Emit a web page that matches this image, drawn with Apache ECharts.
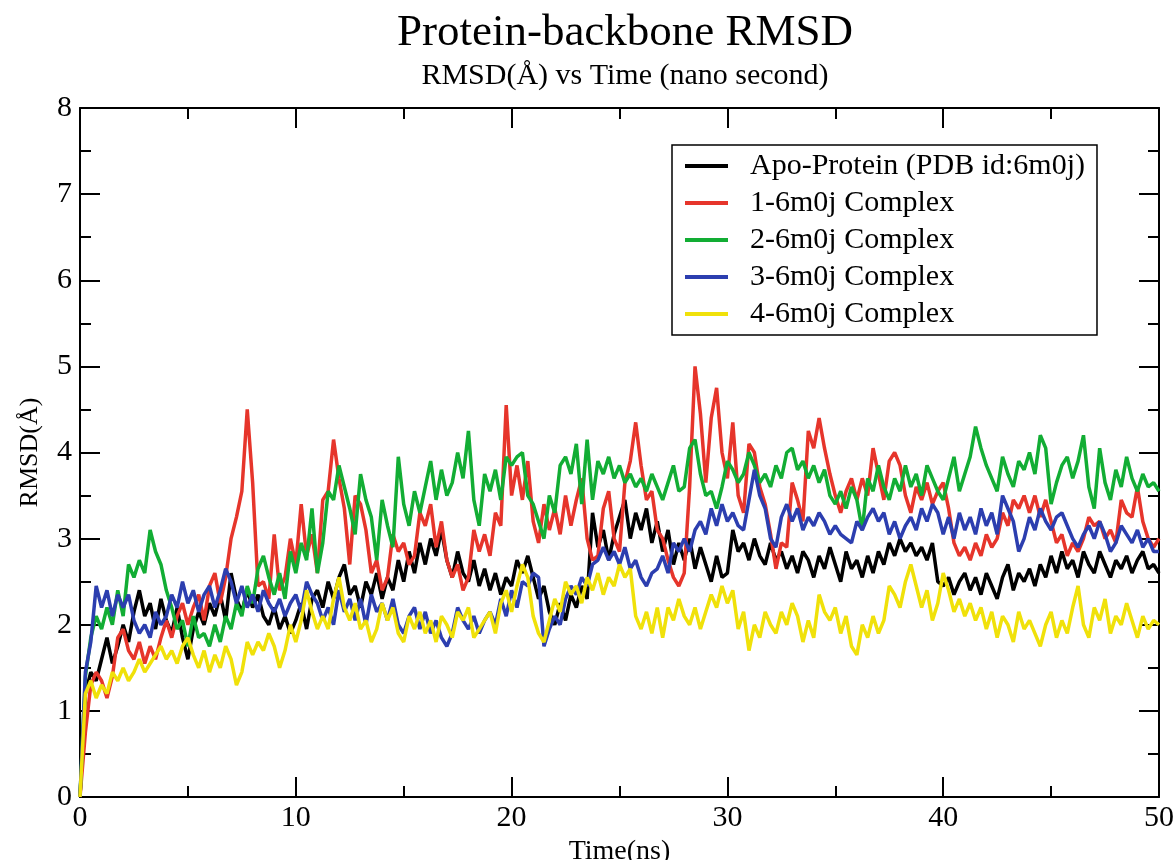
<!DOCTYPE html>
<html>
<head>
<meta charset="utf-8">
<script src="https://cdn.jsdelivr.net/npm/echarts@6/dist/echarts.min.js"></script>
<style>
  html, body { margin: 0; padding: 0; background: #fff; overflow: hidden; }
  #chart { width: 1175px; height: 860px; }
</style>
</head>
<body>
<div id="chart"></div>
<script>
// ---- Data (RMSD in Angstrom, sampled every 0.25 ns from 0 to 50 ns) ----
const timeStepNs = 0.25;
const seriesNames = [
  'Apo-Protein (PDB id:6m0j)',
  '1-6m0j Complex',
  '2-6m0j Complex',
  '3-6m0j Complex',
  '4-6m0j Complex'
];
const xTicks = [0, 10, 20, 30, 40, 50];
const yTicks = [0, 1, 2, 3, 4, 5, 6, 7, 8];

const apoProtein = [
  0.00,1.20,1.45,1.35, 1.60,1.85,1.55,1.75, 2.00,1.80,2.15,2.40, 2.10,2.25,1.95,2.30, 2.05,1.90,2.20,1.85,
  1.60,1.95,2.15,2.00, 2.25,2.10,2.35,2.05, 2.60,2.30,2.15,2.40, 2.20,2.35,2.10,2.00, 2.20,1.95,2.10,1.90,
  2.05,2.25,1.95,2.30, 2.40,2.20,2.50,2.30, 2.55,2.70,2.35,2.45, 2.20,2.50,2.35,2.60, 2.30,2.55,2.40,2.75,
  2.50,2.85,2.60,2.95, 2.70,3.00,2.80,3.10, 2.75,2.55,2.85,2.60, 2.50,2.75,2.45,2.65, 2.40,2.60,2.35,2.55,
  2.45,2.75,2.60,2.80, 2.55,2.30,2.45,2.15, 2.00,2.25,2.05,2.35, 2.20,2.45,2.30,3.30, 2.90,3.10,2.75,3.05,
  3.25,3.45,3.00,3.30, 3.10,3.35,2.95,3.20, 2.85,3.10,2.70,2.95, 2.75,3.00,2.65,2.90, 2.70,2.50,2.80,2.55,
  2.60,3.10,2.85,2.95, 2.75,3.00,2.80,2.70, 2.95,2.75,2.85,2.65, 2.80,2.60,2.85,2.75, 2.55,2.80,2.65,2.90,
  2.70,2.50,2.85,2.65, 2.75,2.55,2.80,2.60, 2.85,2.70,2.95,2.80, 3.00,2.85,2.95,2.80, 2.90,2.75,2.95,2.50,
  2.45,2.55,2.35,2.50, 2.60,2.40,2.55,2.35, 2.60,2.45,2.30,2.55, 2.70,2.40,2.60,2.50, 2.65,2.45,2.70,2.55,
  2.80,2.60,2.85,2.65, 2.75,2.55,2.85,2.70, 2.60,2.85,2.70,2.55, 2.75,2.65,2.80,2.60, 2.75,2.85,2.65,2.70,
  2.60
];
const complex1 = [
  0.00,0.75,1.30,1.45, 1.35,1.15,1.40,1.85, 1.95,1.70,1.60,1.80, 1.55,1.75,1.60,1.85, 2.05,1.85,2.10,2.25,
  2.00,2.20,2.35,2.05, 2.45,2.60,2.25,2.55, 3.00,3.25,3.55,4.50, 3.65,2.45,2.50,2.30, 3.05,2.40,2.55,3.00,
  2.70,3.40,2.80,3.05, 2.60,3.45,3.55,4.15, 3.70,3.35,2.70,3.50, 3.40,3.10,2.60,2.75, 2.40,2.55,3.05,2.85,
  2.95,2.70,2.80,3.30, 3.15,3.40,2.90,3.20, 2.75,2.55,2.70,2.40, 2.55,3.10,2.85,3.05, 2.80,3.30,3.15,4.55,
  3.50,3.85,3.45,3.90, 3.20,2.95,3.40,3.10, 3.35,3.05,3.50,3.15, 3.45,3.70,3.00,2.75, 2.80,3.35,3.55,3.00,
  2.85,3.65,3.90,4.35, 3.85,3.45,3.55,3.10, 3.00,2.75,2.55,2.45, 2.60,3.60,5.00,4.45, 3.65,4.40,4.75,4.00,
  3.70,4.35,3.50,3.30, 4.10,4.00,3.60,3.40, 3.05,2.65,2.95,2.90, 3.65,3.45,3.20,4.25, 4.05,4.40,4.05,3.75,
  3.50,3.30,3.55,3.70, 3.45,3.70,3.50,4.05, 3.75,3.45,3.90,4.00, 3.85,3.50,3.30,3.60, 3.45,3.65,3.40,3.55,
  3.65,3.35,2.95,2.80, 2.90,2.75,2.95,2.80, 3.05,2.90,3.00,3.30, 3.15,3.45,3.35,3.50, 3.30,3.50,3.25,3.45,
  3.20,2.95,3.05,2.80, 2.95,2.85,3.00,3.25, 3.15,3.20,3.00,3.10, 2.95,3.45,3.30,3.25, 3.60,3.20,3.00,2.90,
  3.00
];
const complex2 = [
  0.00,1.40,1.85,2.10, 1.95,2.20,2.00,2.40, 2.10,2.70,2.55,2.75, 2.60,3.10,2.85,2.70, 2.40,2.20,1.95,2.05,
  1.75,2.10,1.85,1.90, 1.75,2.00,1.80,2.10, 1.95,2.25,2.10,2.45, 2.25,2.65,2.80,2.55, 2.35,2.60,2.30,2.85,
  2.60,2.95,2.75,3.35, 2.60,2.95,3.55,3.45, 3.85,3.60,3.35,3.05, 3.75,3.45,3.25,2.75, 3.45,3.15,2.90,3.95,
  3.40,3.15,3.55,3.30, 3.60,3.90,3.45,3.80, 3.50,3.65,4.00,3.70, 4.25,3.45,3.15,3.75, 3.55,3.80,3.45,3.95,
  3.85,3.95,4.00,3.50, 3.40,3.20,3.00,3.50, 3.30,3.85,3.95,3.75, 4.10,3.40,4.15,3.45, 3.90,3.75,3.95,3.70,
  3.85,3.65,3.75,3.60, 3.70,3.55,3.75,3.60, 3.45,3.65,3.85,3.55, 3.60,4.05,4.15,3.75, 3.50,3.55,3.35,3.60,
  3.90,3.80,3.65,3.75, 4.00,3.85,3.65,3.75, 3.60,3.85,3.70,4.00, 4.05,3.80,3.90,3.70, 3.85,3.65,3.80,3.50,
  3.40,3.55,3.35,3.60, 3.45,3.10,3.70,3.55, 3.85,3.60,3.45,3.70, 3.55,3.85,3.60,3.75, 3.50,3.85,3.70,3.55,
  3.45,3.70,3.95,3.55, 3.75,3.95,4.30,4.05, 3.85,3.70,3.55,3.95, 3.75,3.60,3.90,3.80, 4.00,3.75,4.20,4.05,
  3.40,3.65,3.85,3.95, 3.70,3.90,4.20,3.60, 3.35,4.05,3.65,3.45, 3.80,3.60,3.95,3.70, 3.55,3.75,3.60,3.65,
  3.55
];
const complex3 = [
  0.00,1.45,1.80,2.45, 2.20,2.40,2.10,2.35, 2.20,2.35,2.05,1.90, 2.00,1.85,2.15,2.00, 2.10,2.35,2.20,2.50,
  2.25,2.40,2.15,2.35, 2.45,2.20,2.40,2.65, 2.50,2.25,2.45,2.20, 2.35,2.15,2.40,2.25, 2.15,2.30,2.10,2.25,
  2.35,2.15,2.50,2.35, 2.25,2.05,2.20,2.00, 2.40,2.15,2.30,2.05, 2.30,2.00,2.35,2.15, 2.25,2.05,2.30,2.00,
  1.90,2.10,2.20,1.95, 2.15,1.90,2.05,1.85, 1.75,1.90,2.20,2.05, 1.95,2.10,1.90,2.05, 2.15,2.00,2.30,2.10,
  2.40,2.20,2.50,2.45, 2.60,2.55,1.75,1.95, 2.10,2.00,2.30,2.45, 2.35,2.55,2.45,2.70, 2.75,2.90,2.75,2.85,
  2.70,2.90,2.65,2.75, 2.55,2.45,2.60,2.65, 2.80,2.60,2.95,2.85, 3.00,2.85,3.10,3.20, 3.05,3.35,3.15,3.40,
  3.20,3.30,3.15,3.10, 3.45,3.80,3.50,3.35, 3.00,2.90,3.25,3.40, 3.20,3.35,3.10,3.25, 3.15,3.30,3.20,3.05,
  3.15,3.05,3.00,2.95, 3.20,3.10,3.25,3.35, 3.20,3.30,3.05,3.20, 3.00,3.15,3.25,3.10, 3.35,3.20,3.40,3.30,
  3.05,3.25,3.00,3.30, 3.10,3.25,3.05,3.35, 3.15,3.30,3.05,3.50, 3.35,3.20,2.85,3.00, 3.25,3.10,3.35,3.20,
  3.10,3.25,3.30,3.15, 3.00,2.90,3.05,3.15, 3.00,3.20,3.05,2.85, 2.95,3.15,3.05,2.95, 3.10,2.90,3.00,2.85,
  2.85
];
const complex4 = [
  0.00,1.20,1.35,1.15, 1.30,1.20,1.45,1.35, 1.50,1.35,1.45,1.60, 1.45,1.55,1.65,1.75, 1.60,1.70,1.55,1.75,
  1.85,1.65,1.50,1.70, 1.45,1.65,1.50,1.75, 1.60,1.30,1.45,1.80, 1.65,1.80,1.70,1.90, 1.75,1.50,1.70,2.00,
  1.80,2.05,2.40,2.15, 1.95,2.10,1.95,2.30, 2.55,2.20,2.05,2.25, 1.95,2.05,1.80,1.95, 2.25,2.05,2.20,1.90,
  1.80,2.10,1.95,2.15, 1.90,2.05,1.80,2.10, 2.00,1.85,2.15,2.05, 2.20,1.85,1.95,2.05, 2.15,1.90,2.25,2.40,
  2.15,2.45,2.70,2.55, 2.10,1.90,1.80,2.05, 2.30,2.15,2.50,2.35, 2.45,2.25,2.55,2.40, 2.60,2.35,2.55,2.45,
  2.70,2.55,2.65,2.10, 1.95,2.15,1.90,2.20, 1.85,2.20,2.05,2.30, 2.10,2.00,2.20,1.95, 2.15,2.35,2.20,2.45,
  2.25,2.40,1.95,2.15, 1.70,2.00,1.85,2.15, 2.00,1.90,2.15,2.00, 2.25,2.10,1.80,2.05, 1.85,2.35,2.15,2.05,
  2.20,1.90,2.10,1.75, 1.65,2.00,1.85,2.10, 1.90,2.05,2.45,2.35, 2.20,2.50,2.70,2.45, 2.20,2.40,2.05,2.25,
  2.60,2.40,2.15,2.30, 2.10,2.25,2.05,2.20, 1.95,2.15,1.85,2.10, 2.00,1.80,2.15,1.95, 2.05,1.90,1.75,2.00,
  2.15,1.85,2.05,1.90, 2.20,2.45,2.00,1.85, 2.20,2.05,2.30,1.90, 2.10,2.00,2.25,2.05, 1.85,2.10,1.95,2.05,
  2.00
];

const seriesValues = [apoProtein, complex1, complex2, complex3, complex4];
const seriesColors = ['#000000', '#e6352b', '#12ad34', '#2c3eaf', '#f0e10a'];

// ---- Chart ----
const FONT = '"Liberation Serif", "Times New Roman", serif';
const chart = echarts.init(document.getElementById('chart'), null, { renderer: 'canvas' });

function toPairs(arr) {
  return arr.map((v, i) => [i * timeStepNs, v]);
}

function axisStyle() {
  return {
    axisLine: { show: true, onZero: false, lineStyle: { color: '#000', width: 2 } },
    axisTick: { show: true, inside: true, length: 20, lineStyle: { color: '#000', width: 2 } },
    minorTick: { show: true, splitNumber: 2, length: 11, lineStyle: { color: '#000', width: 2 } },
    splitLine: { show: false },
    minorSplitLine: { show: false }
  };
}

const option = {
  animation: false,
  backgroundColor: '#fff',
  title: [
    { text: 'Protein-backbone RMSD', left: 620, top: 6, textAlign: 'center',
      textStyle: { fontFamily: FONT, fontSize: 45, fontWeight: 'normal', color: '#000' } },
    { text: 'RMSD(Å) vs Time (nano second)', left: 620, top: 56, textAlign: 'center',
      textStyle: { fontFamily: FONT, fontSize: 30, fontWeight: 'normal', color: '#000' } }
  ],
  legend: {
    data: seriesNames,
    orient: 'vertical',
    left: 672,
    top: 145,
    padding: [6, 12, 6, 13],
    itemGap: 7,
    itemWidth: 43,
    itemHeight: 4,
    icon: 'rect',
    borderColor: '#000',
    borderWidth: 1.5,
    backgroundColor: '#fff',
    textStyle: { fontFamily: FONT, fontSize: 30, color: '#000', lineHeight: 27, padding: [0, 0, 0, 17] }
  },
  grid: { left: 80, right: 16, top: 108, bottom: 63, containLabel: false, outerBoundsMode: 'none' },
  xAxis: [
    Object.assign({
      type: 'value', min: xTicks[0], max: xTicks[xTicks.length - 1], interval: 10,
      name: 'Time(ns)', nameLocation: 'middle', nameGap: 37,
      nameTextStyle: { fontFamily: FONT, fontSize: 28, color: '#000' },
      axisLabel: { fontFamily: FONT, fontSize: 30, color: '#000', margin: 6 }
    }, axisStyle()),
    Object.assign({
      type: 'value', position: 'top', min: xTicks[0], max: xTicks[xTicks.length - 1], interval: 10,
      axisLabel: { show: false }
    }, axisStyle())
  ],
  yAxis: [
    Object.assign({
      type: 'value', min: yTicks[0], max: yTicks[yTicks.length - 1], interval: 1,
      name: 'RMSD(Å)', nameLocation: 'middle', nameGap: 37, nameRotate: 90,
      nameTextStyle: { fontFamily: FONT, fontSize: 26, color: '#000' },
      axisLabel: { fontFamily: FONT, fontSize: 30, color: '#000', margin: 8 }
    }, axisStyle()),
    Object.assign({
      type: 'value', position: 'right', min: yTicks[0], max: yTicks[yTicks.length - 1], interval: 1,
      axisLabel: { show: false }
    }, axisStyle())
  ],
  series: seriesNames.map((name, i) => ({
    name: name,
    type: 'line',
    xAxisIndex: 0,
    yAxisIndex: 0,
    data: toPairs(seriesValues[i]),
    showSymbol: false,
    symbol: 'none',
    color: seriesColors[i],
    lineStyle: { color: seriesColors[i], width: 3.5 },
    z: 2 + i
  }))
};

chart.setOption(option);
</script>
</body>
</html>
